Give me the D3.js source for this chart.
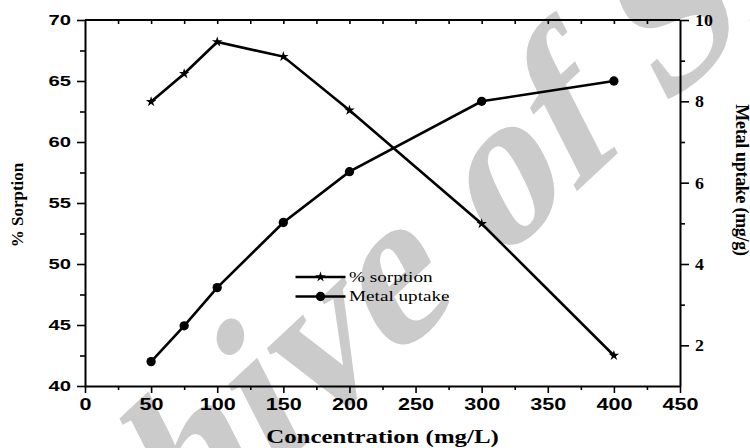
<!DOCTYPE html>
<html>
<head>
<meta charset="utf-8">
<script src="https://cdn.jsdelivr.net/npm/d3@7"></script>
<style>
  html, body { margin: 0; padding: 0; background: #fff; }
  svg { display: block; }
</style>
</head>
<body>
<svg id="chart" width="750" height="448"></svg>
<script>
// ---- data ----
const concentration = [50, 75, 100, 150, 200, 300, 400];
const sorption = [63.3, 65.6, 68.2, 67.0, 62.6, 53.3, 42.5];
const uptake = [1.6, 2.48, 3.42, 5.02, 6.27, 8.0, 8.5];
const xTicks = [0, 50, 100, 150, 200, 250, 300, 350, 400, 450];
const yLeftTicks = [40, 45, 50, 55, 60, 65, 70];
const yRightTicks = [2, 4, 6, 8, 10];
const seriesNames = ["% sorption", "Metal uptake"];
const titles = { x: "Concentration (mg/L)", yLeft: "% Sorption", yRight: "Metal uptake (mg/g)" };
const watermark = "Archive of SID";

// ---- layout ----
const L = 85, R = 680, T = 20, B = 386;
const svg = d3.select("#chart");
svg.append("rect").attr("width", 750).attr("height", 448).attr("fill", "#fff");

const x = d3.scaleLinear().domain([0, 450]).range([L, R]);
const yL = d3.scaleLinear().domain([40, 70]).range([B, T]);
const yR = d3.scaleLinear().domain([1, 10]).range([B, T]);

const sansTick = "'Liberation Sans', Arial, sans-serif";
const serif = "'Liberation Serif', 'Times New Roman', serif";
const SX = 1.35;

// watermark (serif bold, slanted)
svg.append("text")
  .attr("transform", "translate(-60,785) rotate(-43) skewX(-16)")
  .style("font-family", serif)
  .style("font-weight", "bold")
  .style("font-size", "210px").attr("fill", "#cbcbcb")
  .text(watermark);

function styleAxis(g, font, size, stretch) {
  g.select(".domain").attr("stroke", "#000").attr("stroke-width", 2);
  g.selectAll(".tick line").attr("stroke", "#000").attr("stroke-width", 1.6);
  g.attr("font-family", null).attr("font-size", null);
  g.selectAll("text").style("font-family", font).attr("font-weight", "bold")
    .style("font-size", size + "px").attr("fill", "#000");
  if (stretch) {
    g.selectAll("text").each(function () {
      const t = d3.select(this);
      const tx = +t.attr("x") || 0;
      t.attr("x", 0).attr("transform", `translate(${tx},0) scale(${stretch},1)`);
    });
  }
}

function minor(g) {
  g.select(".domain").remove();
  g.selectAll("line").attr("stroke", "#000").attr("stroke-width", 1.6);
}

// minor ticks
svg.append("g").attr("transform", `translate(0,${B})`)
  .call(d3.axisBottom(x).tickValues(d3.range(25, 450, 50)).tickSize(4).tickFormat(""))
  .call(minor);
svg.append("g").attr("transform", `translate(${L},0)`)
  .call(d3.axisLeft(yL).tickValues(d3.range(42.5, 70, 5)).tickSize(5).tickFormat(""))
  .call(minor);
svg.append("g").attr("transform", `translate(${R},0)`)
  .call(d3.axisRight(yR).tickValues([3, 5, 7, 9]).tickSize(5).tickFormat(""))
  .call(minor);
// top axis ticks (inward)
svg.append("g").attr("transform", `translate(0,${T})`)
  .call(d3.axisBottom(x).tickValues(d3.range(25, 450, 25)).tickSize(4).tickFormat(""))
  .call(minor);
svg.append("line").attr("x1", L).attr("x2", R).attr("y1", T).attr("y2", T)
  .attr("stroke", "#000").attr("stroke-width", 2);

// main axes
svg.append("g").attr("transform", `translate(0,${B})`)
  .call(d3.axisBottom(x).tickValues(xTicks).tickSize(7).tickPadding(6).tickSizeOuter(0))
  .call(g => styleAxis(g, sansTick, 16, SX));
svg.append("g").attr("transform", `translate(${L},0)`)
  .call(d3.axisLeft(yL).tickValues(yLeftTicks).tickSize(8).tickPadding(6).tickSizeOuter(0))
  .call(g => styleAxis(g, sansTick, 15, SX));
svg.append("g").attr("transform", `translate(${R},0)`)
  .call(d3.axisRight(yR).tickValues(yRightTicks).tickSize(9).tickPadding(6).tickSizeOuter(0))
  .call(g => styleAxis(g, serif, 17, 1.05));

// series
const line1 = d3.line().x((d, i) => x(concentration[i])).y(d => yL(d));
const line2 = d3.line().x((d, i) => x(concentration[i])).y(d => yR(d));
svg.append("path").datum(sorption).attr("d", line1)
  .attr("fill", "none").attr("stroke", "#000").attr("stroke-width", 2.6);
svg.append("path").datum(uptake).attr("d", line2)
  .attr("fill", "none").attr("stroke", "#000").attr("stroke-width", 2.6);

const star = d3.symbol().type(d3.symbolStar).size(34);
const circ = d3.symbol().type(d3.symbolCircle).size(68);
svg.append("g").selectAll("path").data(sorption).join("path")
  .attr("transform", (d, i) => `translate(${x(concentration[i])},${yL(d)})`)
  .attr("d", star).attr("fill", "#000");
svg.append("g").selectAll("path").data(uptake).join("path")
  .attr("transform", (d, i) => `translate(${x(concentration[i])},${yR(d)})`)
  .attr("d", circ).attr("fill", "#000");

// legend
const legY = [277, 296.5];
const lg = svg.append("g");
seriesNames.forEach((name, i) => {
  lg.append("line").attr("x1", 295.5).attr("x2", 345.5).attr("y1", legY[i]).attr("y2", legY[i])
    .attr("stroke", "#000").attr("stroke-width", 2.6);
  lg.append("path").attr("transform", `translate(320.5,${legY[i]})`)
    .attr("d", i === 0 ? star : circ).attr("fill", "#000");
  lg.append("text").attr("transform", `translate(349,${legY[i] + 4.5}) scale(1.37,1)`)
    .style("font-family", serif).style("font-size", "14px").attr("fill", "#000").text(name);
});

// axis titles
svg.append("text").attr("transform", `translate(382.5,443) scale(1.38,1)`)
  .attr("text-anchor", "middle").style("font-family", serif).attr("font-weight", "bold")
  .style("font-size", "18px").attr("fill", "#000").text(titles.x);
svg.append("text").attr("transform", `translate(23,205) rotate(-90)`)
  .attr("text-anchor", "middle").style("font-family", serif).attr("font-weight", "bold")
  .style("font-size", "17px").attr("fill", "#000").text(titles.yLeft);
svg.append("text").attr("transform", `translate(735.5,180) rotate(90)`)
  .attr("text-anchor", "middle").style("font-family", serif).attr("font-weight", "bold")
  .style("font-size", "18px").attr("letter-spacing", -0.3).attr("fill", "#000").text(titles.yRight);
</script>
</body>
</html>
